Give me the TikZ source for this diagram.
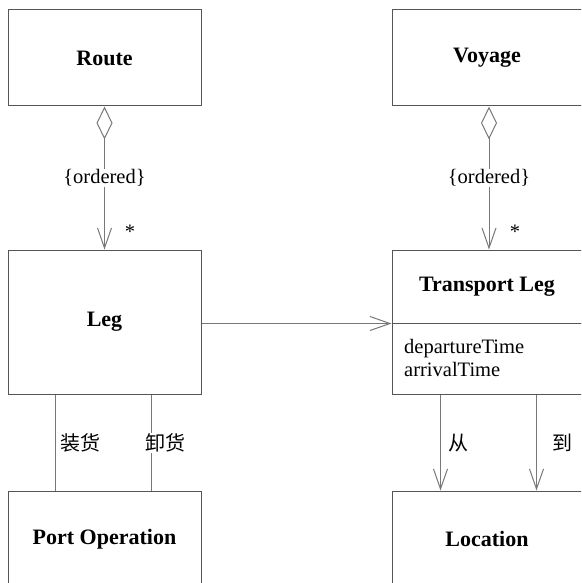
\documentclass[tikz,border=0pt]{standalone}
\usepackage{fontspec}
\setmainfont{Liberation Serif}
\newfontfamily\cjk{Noto Sans CJK SC}
\usetikzlibrary{arrows.meta,calc}
\definecolor{boxline}{RGB}{85,85,85}
\definecolor{conline}{RGB}{120,120,120}
\begin{document}
\begin{tikzpicture}[x=1pt,y=-1pt,
  box/.style={draw=boxline, line width=1pt, rectangle, inner sep=0pt, font=\fontsize{22}{25}\selectfont\bfseries},
  conn/.style={draw=conline, line width=1pt},
  opentip/.style={-{Straight Barb[length=20pt,width=14pt,line width=1pt]}},
  aggtip/.style={{Diamond[open,length=33pt,width=16pt,line width=1pt]}-{Straight Barb[length=20pt,width=14pt,line width=1pt]}},
  lbl/.style={font=\fontsize{20.5}{23}\selectfont, inner sep=1pt},
  cjklbl/.style={font=\fontsize{20}{23}\selectfont\cjk, inner sep=1pt}]
\clip (0,0) rectangle (581,583);
\fill[white] (0,0) rectangle (581,583);
% boxes
\node[box, minimum width=193pt, minimum height=96pt] (route) at (104.5,58) {Route};
\node[box, minimum width=190pt, minimum height=96pt] (voyage) at (487,58) {Voyage};
\node[box, minimum width=193pt, minimum height=144pt] (leg) at (104.5,322) {Leg};
\node[box, minimum width=190pt, minimum height=73pt] (tleg) at (487,286.5) {Transport Leg};
\node[box, minimum width=190pt, minimum height=71pt] (tattr) at (487,358.5) {};
\node[anchor=west, align=left, font=\fontsize{20.5}{23}\selectfont, inner sep=0pt] (attrs) at (404,358) {departureTime\\arrivalTime};
\node[box, minimum width=193pt, minimum height=96pt] (portop) at (104.5,539) {Port Operation};
\node[box, minimum width=190pt, minimum height=96pt] (loc) at (487,539) {Location};
% aggregations
\draw[conn, aggtip] (route.south) -- (leg.north) node[midway, fill=white, lbl] (ord1) {\{ordered\}};
\node[lbl] (star1) at (130,232) {*};
\draw[conn, aggtip] ([xshift=2pt]voyage.south) -- ([xshift=2pt]tleg.north) node[midway, fill=white, lbl] (ord2) {\{ordered\}};
\node[lbl] (star2) at (515,232) {*};
% leg -> transport leg
\draw[conn, opentip] (leg.east |- tleg.south west) -- (tleg.south west);
% leg - port operation
\draw[conn] ([xshift=48pt]leg.south west) -- ([xshift=48pt]portop.north west);
\draw[conn] ([xshift=144pt]leg.south west) -- ([xshift=144pt]portop.north west);
\node[cjklbl] (load) at (80,443) {装货};
\node[cjklbl, fill=white] (unload) at (165,443) {卸货};
% transport leg -> location
\draw[conn, opentip] ([xshift=49pt]tattr.south west) -- ([xshift=49pt]loc.north west);
\draw[conn, opentip] ([xshift=145pt]tattr.south west) -- ([xshift=145pt]loc.north west);
\node[cjklbl] (from) at (458,443) {从};
\node[cjklbl] (to) at (562,443) {到};
\end{tikzpicture}
\end{document}
